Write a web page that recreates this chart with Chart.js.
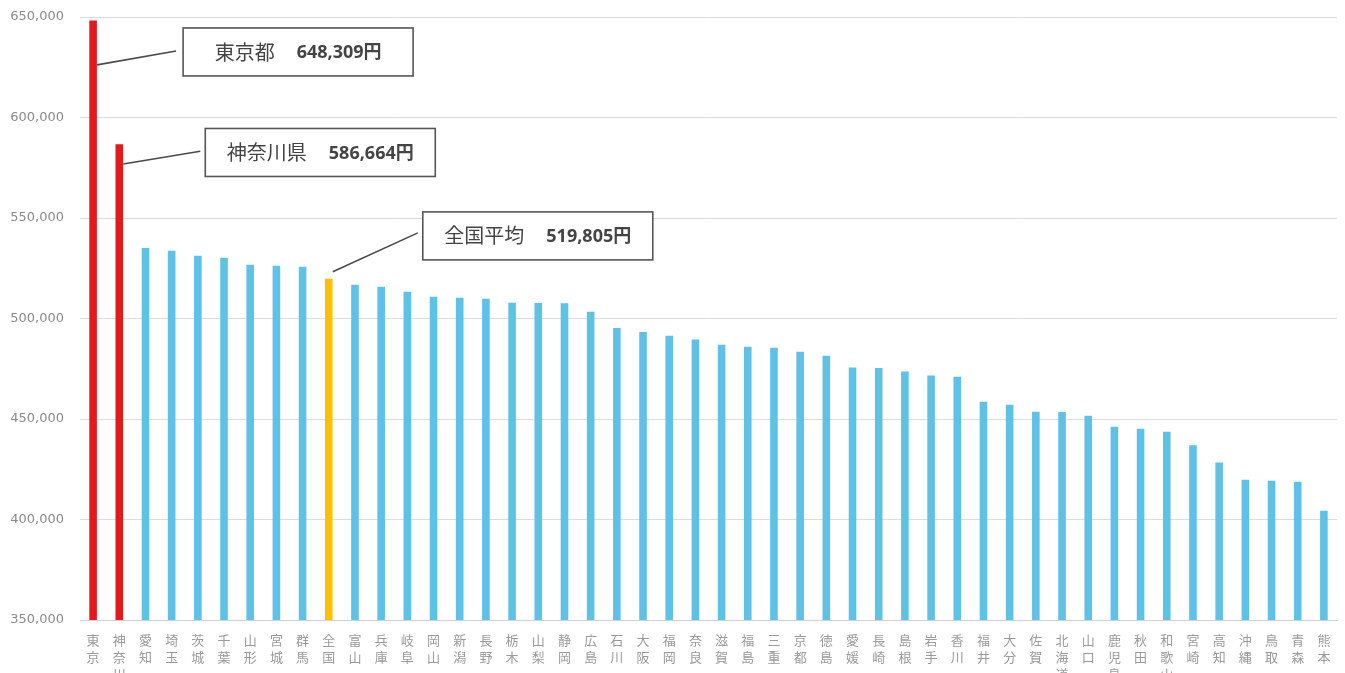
<!DOCTYPE html>
<html lang="ja">
<head>
<meta charset="utf-8">
<title>都道府県別 平均額</title>
<script src="https://cdn.jsdelivr.net/npm/chart.js@4/dist/chart.umd.min.js"></script>
<style>
  html, body { margin: 0; padding: 0; background: #ffffff; }
  #wrap { width: 1345px; height: 673px; position: relative; }
</style>
</head>
<body>
<div id="wrap"><canvas id="chart" width="1345" height="673"></canvas></div>
<script>
// 都道府県（全国平均を含む）
const prefectures = [
  '東京', '神奈川', '愛知', '埼玉', '茨城', '千葉', '山形', '宮城', '群馬', '全国',
  '富山', '兵庫', '岐阜', '岡山', '新潟', '長野', '栃木', '山梨', '静岡', '広島',
  '石川', '大阪', '福岡', '奈良', '滋賀', '福島', '三重', '京都', '徳島', '愛媛',
  '長崎', '島根', '岩手', '香川', '福井', '大分', '佐賀', '北海道', '山口', '鹿児島',
  '秋田', '和歌山', '宮崎', '高知', '沖縄', '鳥取', '青森', '熊本'
];

// 金額（円）
const amounts = [
  648309, 586664, 535100, 533700, 531200, 530200, 526700, 526200, 525700, 519805,
  516800, 515800, 513300, 510800, 510300, 509800, 507800, 507700, 507600, 503300,
  495300, 493300, 491400, 489500, 487000, 486000, 485500, 483500, 481500, 475600,
  475400, 473600, 471600, 471000, 458600, 457100, 453600, 453500, 451600, 446200,
  445200, 443700, 437000, 428300, 419800, 419300, 418800, 404400
];

// 目盛
const yTicks = [350000, 400000, 450000, 500000, 550000, 600000, 650000];

// 強調する項目
const topPrefectures = ['東京', '神奈川'];
const averageLabel = '全国';

// 吹き出し
const calloutCats = ['東京', '神奈川', '全国'];
const calloutNames = ['東京都', '神奈川県', '全国平均'];

const RED = '#e3191f';
const BLUE = '#5ec1e8';
const YELLOW = '#ffc000';

const barColors = prefectures.map(p =>
  topPrefectures.includes(p) ? RED : (p === averageLabel ? YELLOW : BLUE)
);

// 吹き出しの配置（バー基準のオフセット）
const calloutLayout = [
  { anchorValue: 626200, boxValue: 632600, lineEndDx: 83, lineEndValue: 633100, boxDx: 90 },
  { anchorValue: 576900, boxValue: 582600, lineEndDx: 81, lineEndValue: 583200, boxDx: 86 },
  { anchorValue: 523300, boxValue: 541100, lineEndDx: 89, lineEndValue: 542600, boxDx: 94 }
];

const calloutPlugin = {
  id: 'callouts',
  afterDatasetsDraw(chart) {
    const ctx = chart.ctx;
    const xs = chart.scales.x;
    const ys = chart.scales.y;
    const nameFont = '20px "Noto Sans CJK JP", "Noto Sans", sans-serif';
    const amtFont = 'bold 18px "Noto Sans", "Noto Sans CJK JP", sans-serif';
    const gap = 22;
    ctx.save();
    calloutCats.forEach((cat, i) => {
      const idx = prefectures.indexOf(cat);
      const lay = calloutLayout[i];
      const bx = xs.getPixelForValue(idx);
      const ax = bx + 4;
      const ay = ys.getPixelForValue(lay.anchorValue);
      const ex = bx + lay.lineEndDx;
      const ey = ys.getPixelForValue(lay.lineEndValue);
      ctx.strokeStyle = '#4a4a4a';
      ctx.lineWidth = 1.6;
      ctx.beginPath();
      ctx.moveTo(ax, ay);
      ctx.lineTo(ex, ey);
      ctx.stroke();

      const boxW = 230, boxH = 48;
      const left = bx + lay.boxDx;
      const cy = ys.getPixelForValue(lay.boxValue);
      const top = cy - boxH / 2;
      ctx.fillStyle = '#ffffff';
      ctx.fillRect(left, top, boxW, boxH);
      ctx.strokeStyle = '#555555';
      ctx.lineWidth = 1.6;
      ctx.strokeRect(left, top, boxW, boxH);

      const name = calloutNames[i];
      const amt = amounts[idx].toLocaleString('en-US') + '円';
      ctx.font = nameFont;
      const wName = ctx.measureText(name).width;
      ctx.font = amtFont;
      const wAmt = ctx.measureText(amt).width;
      const start = left + (boxW - (wName + gap + wAmt)) / 2;

      ctx.textBaseline = 'middle';
      ctx.textAlign = 'left';
      ctx.fillStyle = '#444444';
      ctx.font = nameFont;
      ctx.fillText(name, start, cy);
      ctx.font = amtFont;
      ctx.fillText(amt, start + wName + gap, cy + 1);
    });
    ctx.restore();
  }
};

new Chart(document.getElementById('chart'), {
  type: 'bar',
  data: {
    labels: prefectures.map(p => Array.from(p)),
    datasets: [{
      data: amounts,
      backgroundColor: barColors,
      borderWidth: 0,
      barPercentage: 0.29,
      categoryPercentage: 1
    }]
  },
  options: {
    responsive: false,
    animation: false,
    devicePixelRatio: 1,
    layout: { padding: { top: 17, right: 8, left: 0, bottom: 0 } },
    plugins: {
      legend: { display: false },
      tooltip: { enabled: false }
    },
    scales: {
      x: {
        offset: true,
        grid: { display: false, drawTicks: false },
        border: { display: true, color: '#d0d0d0', width: 1 },
        ticks: {
          autoSkip: false,
          maxRotation: 0,
          minRotation: 0,
          padding: 12,
          color: '#9a9a9a',
          font: { family: '"Noto Sans CJK JP", sans-serif', size: 13, lineHeight: 1.3 }
        },
        afterFit(scale) { scale.height = 53; }
      },
      y: {
        min: 350000,
        max: 650000,
        afterBuildTicks(scale) { scale.ticks = yTicks.map(v => ({ value: v })); },
        grid: { color: '#dcdcdc', lineWidth: 1, drawTicks: false },
        border: { display: false },
        ticks: {
          padding: 16,
          color: '#8a8a8a',
          font: { family: '"DejaVu Sans", sans-serif', size: 13 },
          callback: v => v.toLocaleString('en-US')
        },
        afterFit(scale) {
          scale.width = 80;
          scale.paddingTop = 0;
          scale.paddingBottom = 0;
        }
      }
    }
  },
  plugins: [calloutPlugin]
});
</script>
</body>
</html>
